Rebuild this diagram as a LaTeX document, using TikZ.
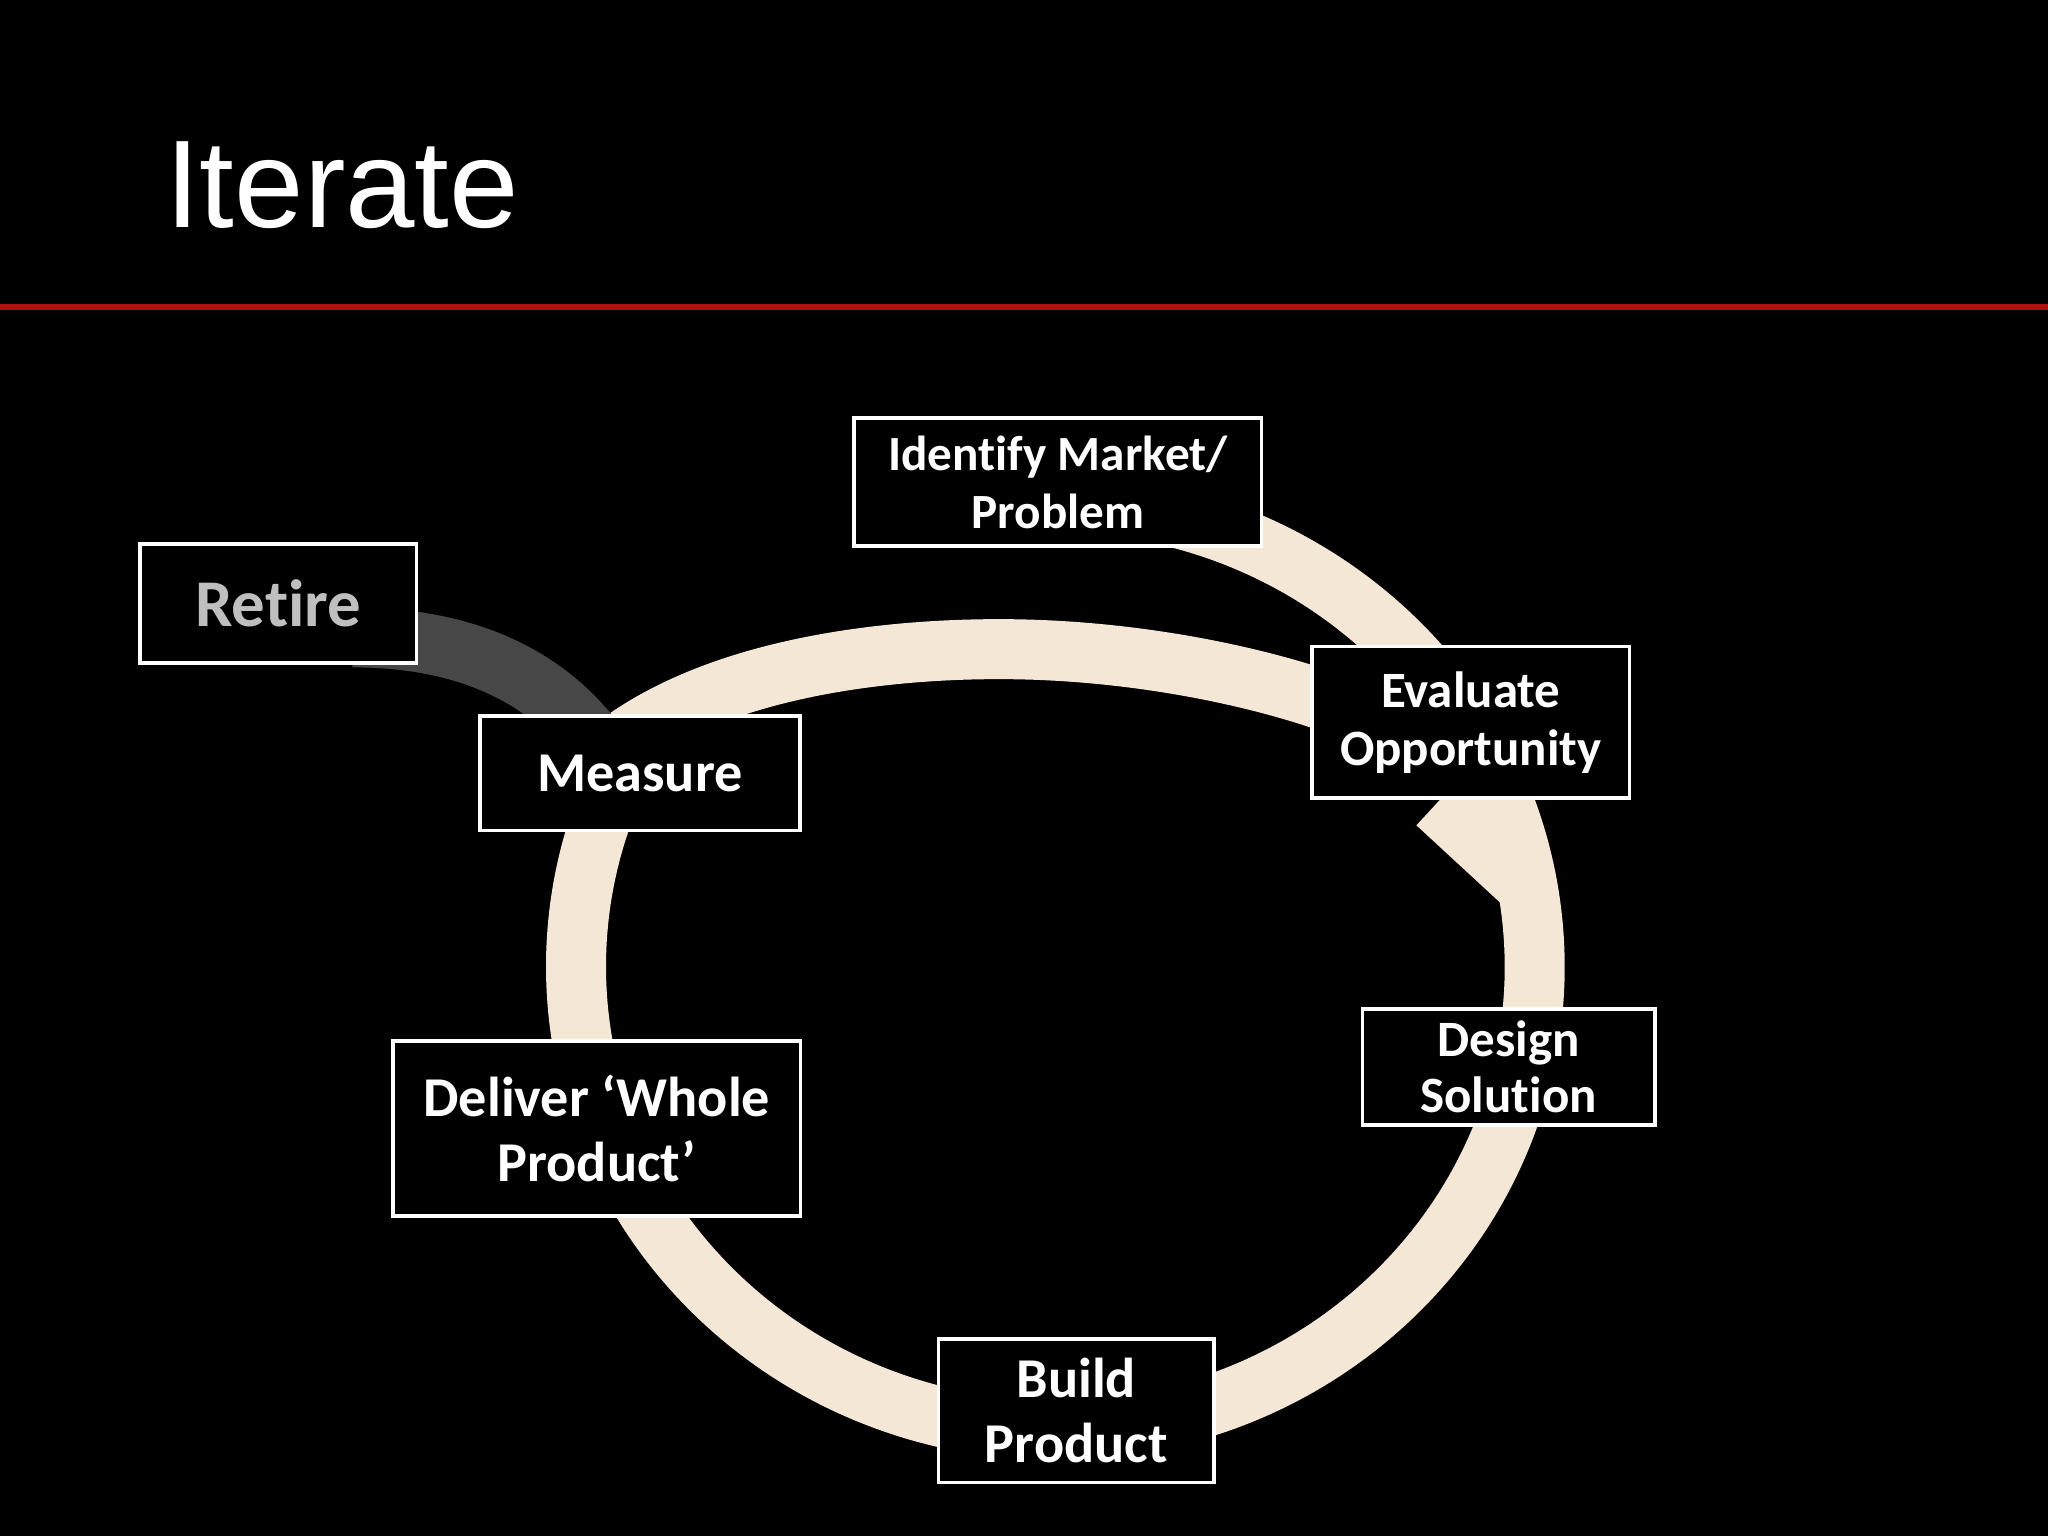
\documentclass[tikz,border=0pt]{standalone}
\usepackage{fontspec}
\setmainfont[Ligatures=NoCommon]{Carlito}
\newfontfamily\titlefont{Liberation Sans}
\definecolor{ring}{HTML}{F5E7D6}
\definecolor{redline}{HTML}{B01010}
\begin{document}
\begin{tikzpicture}[x=0.013061cm,y=-0.013061cm,
  box/.style 2 args={draw=white,line width=1pt,fill=black,text=white,align=center,inner sep=0pt,minimum width=#1*0.013061cm,minimum height=#2*0.013061cm},
  band/.style={draw=ring,line width=0.6cm}]
\fill[black] (0,0) rectangle (1568,1176);
\useasboundingbox (0,0) rectangle (1568,1176);
\node[anchor=base west,text=white,font=\titlefont\fontsize{35.5}{40}\selectfont,inner sep=0] (title) at (126,174) {Iterate};
\draw[redline,line width=1.5pt] (0,235) -- (1568,235);
% ring
\draw[band] (808,740) ++(-95:367 and 355) arc[start angle=-95,end angle=208,x radius=367,y radius=355];
\draw[band] (480,565) .. controls (560,510) and (680,497) .. (765,497) .. controls (860,497) and (950,515) .. (1010,535);
\draw[band] (1100,615) -- (1165,675);
% retire band
\draw[line width=0.6cm,color=black!72] (270,488) .. controls (360,488) and (430,520) .. (470,590);
% boxes
\node[box={312}{98},font=\bfseries\fontsize{14}{16.5}\selectfont] (ident) at (810,369) {Identify Market/\\Problem};
\node[box={212}{91},text=black!25,font=\bfseries\fontsize{19}{22}\selectfont] (retire) at (213,462) {Retire};
\node[box={243}{116},font=\bfseries\fontsize{14.5}{16.5}\selectfont] (eval) at (1126,553) {Evaluate\\Opportunity};
\node[box={245}{88},font=\bfseries\fontsize{16}{18}\selectfont] (meas) at (490,592) {Measure};
\node[box={224}{89},font=\bfseries\fontsize{14.5}{16}\selectfont] (design) at (1155,817) {Design\\Solution};
\node[box={312}{134},font=\bfseries\fontsize{16}{18.5}\selectfont] (deliver) at (457,864) {Deliver ‘Whole\\Product’};
\node[box={211}{110},font=\bfseries\fontsize{16}{18.5}\selectfont] (build) at (824,1080) {Build\\Product};
\end{tikzpicture}
\end{document}
